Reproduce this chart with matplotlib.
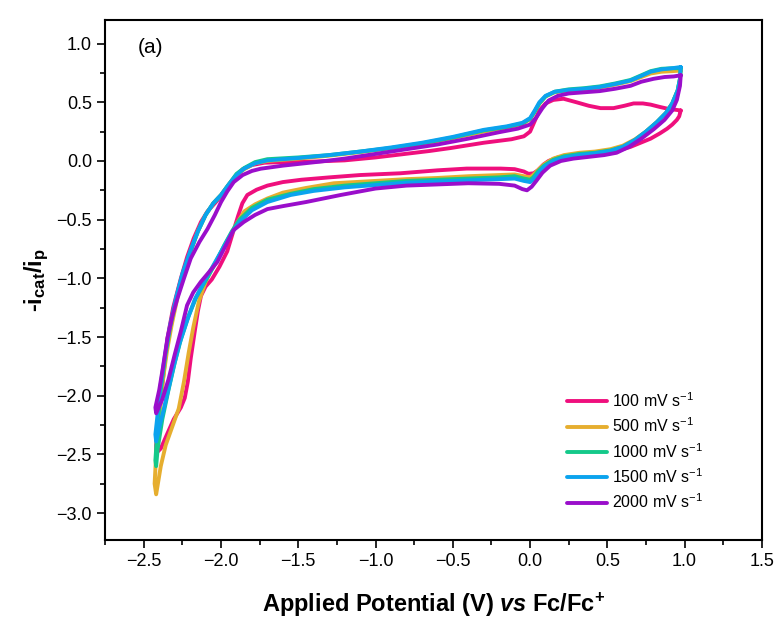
"""
CV loops, normalised current vs potential, five scan rates
"""

import matplotlib.pyplot as plt
from matplotlib.ticker import MultipleLocator

plt.rcParams['font.family'] = 'Liberation Sans'
plt.rcParams['mathtext.fontset'] = 'custom'
plt.rcParams['mathtext.rm'] = 'Liberation Sans'
plt.rcParams['mathtext.it'] = 'Liberation Sans:italic'
plt.rcParams['mathtext.bf'] = 'Liberation Sans:bold'
plt.rcParams['mathtext.bfit'] = 'Liberation Sans:italic:bold'

labels = ['100 mV s$^{-1}$', '500 mV s$^{-1}$', '1000 mV s$^{-1}$',
          '1500 mV s$^{-1}$', '2000 mV s$^{-1}$']
colors = ['#EF0F7D', '#E6AE2F', '#14C98A', '#0BA3EE', '#9A0ECB']

# each loop: from the positive vertex along the lower branch to the
# negative vertex, then back along the upper branch
pink_x = [0.975, 0.965, 0.95, 0.92, 0.887, 0.84, 0.78, 0.715, 0.65, 0.60, 0.54, 0.456, 0.36, 0.28,
          0.18, 0.12, 0.087, 0.05, 0.023, -0.01, -0.04, -0.10, -0.19, -0.41, -0.6, -0.84, -1.1,
          -1.30, -1.48, -1.60, -1.70, -1.77, -1.83, -1.862, -1.89, -1.93, -1.96, -2.01, -2.06,
          -2.10, -2.13, -2.15, -2.17, -2.196, -2.215, -2.235, -2.26, -2.306, -2.35, -2.39, -2.42,
          -2.42, -2.41, -2.395, -2.375, -2.347, -2.31, -2.26, -2.22, -2.177, -2.13, -2.088, -2.04,
          -2.0, -1.96, -1.91, -1.86, -1.80, -1.72, -1.6, -1.4, -1.2, -1.0, -0.84, -0.65, -0.514,
          -0.3, -0.12, -0.04, 0.0, 0.03, 0.06, 0.10, 0.15, 0.216, 0.30, 0.38, 0.456, 0.54, 0.61,
          0.67, 0.73, 0.78, 0.84, 0.89, 0.975]
pink_y = [0.43, 0.38, 0.35, 0.31, 0.275, 0.235, 0.19, 0.155, 0.12, 0.10, 0.075, 0.06, 0.055, 0.05,
          0.03, 0.0, -0.03, -0.08, -0.105, -0.11, -0.09, -0.07, -0.065, -0.065, -0.08, -0.105, -0.12,
          -0.14, -0.16, -0.18, -0.21, -0.245, -0.29, -0.36, -0.47, -0.64, -0.77, -0.90, -1.01,
          -1.07, -1.15, -1.28, -1.45, -1.68, -1.88, -2.02, -2.10, -2.2, -2.33, -2.45, -2.49,
          -2.42, -2.3, -2.1, -1.85, -1.51, -1.25, -1.0, -0.82, -0.66, -0.52, -0.43, -0.36,
          -0.30, -0.24, -0.14, -0.07, -0.035, -0.015, -0.01, -0.005, 0.005, 0.03, 0.055, 0.085, 0.11,
          0.155, 0.185, 0.21, 0.25, 0.34, 0.43, 0.49, 0.52, 0.53, 0.50, 0.47, 0.45, 0.45, 0.47,
          0.49, 0.49, 0.48, 0.46, 0.445, 0.43]

orange_x = [0.975, 0.97, 0.955, 0.92, 0.88, 0.82, 0.75, 0.68, 0.60, 0.52, 0.42, 0.32, 0.22, 0.15,
            0.09, 0.05, 0.02, 0.0, -0.04, -0.10, -0.2, -0.4, -0.6, -0.8, -1.0, -1.27, -1.45, -1.6,
            -1.70, -1.78, -1.85, -1.905, -1.95, -2.0, -2.06, -2.10, -2.144, -2.18, -2.209, -2.24,
            -2.274, -2.32, -2.358, -2.39, -2.42,
            -2.43, -2.42, -2.40, -2.38, -2.35, -2.32, -2.28, -2.24, -2.20, -2.15, -2.10, -2.05, -2.0,
            -1.95, -1.90, -1.85, -1.78, -1.70, -1.5, -1.3, -1.1, -0.9, -0.7, -0.5, -0.3, -0.15, -0.05,
            0.0, 0.03, 0.06, 0.10, 0.16, 0.25, 0.35, 0.45, 0.55, 0.65, 0.72, 0.78, 0.85, 0.92, 0.975]
orange_y = [0.77, 0.70, 0.60, 0.49, 0.41, 0.33, 0.25, 0.185, 0.13, 0.10, 0.08, 0.07, 0.05, 0.02,
            -0.03, -0.08, -0.12, -0.14, -0.13, -0.115, -0.12, -0.13, -0.145, -0.155, -0.17, -0.19,
            -0.23, -0.27, -0.32, -0.37, -0.43, -0.55, -0.66, -0.78, -0.92, -1.03, -1.2, -1.42, -1.63,
            -1.88, -2.11, -2.28, -2.42, -2.6, -2.84,
            -2.75, -2.5, -2.2, -1.9, -1.62, -1.40, -1.15, -0.95, -0.78, -0.60, -0.46, -0.36, -0.29,
            -0.20, -0.12, -0.07, -0.02, 0.0, 0.02, 0.045, 0.075, 0.11, 0.145, 0.195, 0.25, 0.285, 0.315,
            0.355, 0.42, 0.49, 0.55, 0.585, 0.60, 0.61, 0.625, 0.65, 0.68, 0.715, 0.745, 0.76, 0.765, 0.77]

green_x = [0.975, 0.97, 0.955, 0.92, 0.88, 0.82, 0.75, 0.68, 0.60, 0.52, 0.42, 0.32, 0.22, 0.15,
           0.09, 0.05, 0.02, 0.0, -0.04, -0.10, -0.2, -0.4, -0.6, -0.8, -1.0, -1.2, -1.4, -1.55,
           -1.7, -1.8, -1.88, -1.93, -1.98, -2.04, -2.10, -2.16, -2.21, -2.26, -2.30, -2.34, -2.38,
           -2.41, -2.42,
           -2.425, -2.41, -2.39, -2.36, -2.33, -2.29, -2.25, -2.20, -2.15, -2.10, -2.05, -2.0, -1.95,
           -1.90, -1.85, -1.78, -1.70, -1.5, -1.3, -1.1, -0.9, -0.7, -0.5, -0.3, -0.15, -0.05, 0.0,
           0.03, 0.06, 0.10, 0.16, 0.25, 0.35, 0.45, 0.55, 0.65, 0.72, 0.78, 0.85, 0.92, 0.975]
green_y = [0.79, 0.70, 0.60, 0.49, 0.41, 0.33, 0.25, 0.18, 0.12, 0.09, 0.07, 0.06, 0.04, 0.01,
           -0.04, -0.09, -0.14, -0.16, -0.15, -0.13, -0.14, -0.15, -0.16, -0.17, -0.19, -0.21, -0.24,
           -0.28, -0.33, -0.40, -0.50, -0.60, -0.72, -0.88, -1.02, -1.16, -1.32, -1.52, -1.72, -1.95,
           -2.2, -2.45, -2.60,
           -2.55, -2.25, -1.95, -1.65, -1.42, -1.17, -0.97, -0.78, -0.60, -0.46, -0.36, -0.29, -0.20,
           -0.11, -0.06, -0.01, 0.015, 0.03, 0.05, 0.08, 0.11, 0.15, 0.20, 0.26, 0.29, 0.32, 0.36,
           0.42, 0.49, 0.55, 0.59, 0.61, 0.62, 0.635, 0.66, 0.69, 0.73, 0.765, 0.785, 0.79, 0.79]

blue_x = [0.975, 0.97, 0.955, 0.92, 0.88, 0.82, 0.75, 0.68, 0.60, 0.52, 0.42, 0.32, 0.22, 0.15,
          0.09, 0.05, 0.02, 0.0, -0.04, -0.10, -0.2, -0.4, -0.6, -0.8, -1.0, -1.2, -1.4, -1.55,
          -1.7, -1.8, -1.88, -1.93, -1.99, -2.05, -2.11, -2.17, -2.22, -2.27, -2.31, -2.35, -2.39,
          -2.42,
          -2.425, -2.41, -2.39, -2.36, -2.33, -2.29, -2.25, -2.20, -2.15, -2.10, -2.05, -2.0, -1.95,
          -1.90, -1.85, -1.78, -1.70, -1.5, -1.3, -1.1, -0.9, -0.7, -0.5, -0.3, -0.15, -0.05, 0.0,
          0.03, 0.06, 0.10, 0.16, 0.25, 0.35, 0.45, 0.55, 0.65, 0.72, 0.78, 0.85, 0.92, 0.975]
blue_y = [0.80, 0.70, 0.60, 0.49, 0.41, 0.33, 0.25, 0.18, 0.12, 0.085, 0.065, 0.05, 0.03, 0.0,
          -0.05, -0.11, -0.16, -0.18, -0.17, -0.15, -0.155, -0.165, -0.175, -0.185, -0.205, -0.225,
          -0.255, -0.29, -0.35, -0.42, -0.52, -0.61, -0.75, -0.89, -1.03, -1.18, -1.36, -1.56, -1.77,
          -2.0, -2.22, -2.39,
          -2.33, -2.15, -1.9, -1.63, -1.40, -1.16, -0.96, -0.77, -0.60, -0.46, -0.36, -0.29, -0.20,
          -0.12, -0.065, -0.02, 0.005, 0.025, 0.05, 0.08, 0.115, 0.155, 0.205, 0.265, 0.295, 0.325,
          0.365, 0.43, 0.50, 0.555, 0.59, 0.605, 0.615, 0.63, 0.655, 0.685, 0.725, 0.76, 0.78, 0.79, 0.80]

purple_x = [0.975, 0.97, 0.95, 0.92, 0.87, 0.80, 0.72, 0.64, 0.56, 0.48, 0.38, 0.28, 0.20, 0.13,
            0.08, 0.04, 0.01, -0.02, -0.05, -0.10, -0.2, -0.4, -0.6, -0.8, -1.0, -1.226, -1.45, -1.60,
            -1.70, -1.78, -1.853, -1.92, -1.97, -2.024, -2.08, -2.131, -2.18, -2.22, -2.26, -2.30,
            -2.34, -2.38, -2.42,
            -2.425, -2.40, -2.375, -2.347, -2.315, -2.282, -2.24, -2.196, -2.14, -2.088, -2.04, -2.0,
            -1.96, -1.918, -1.86, -1.80, -1.743, -1.6, -1.355, -1.2, -1.0, -0.8, -0.6, -0.4, -0.2,
            -0.08, 0.0, 0.04, 0.08, 0.12, 0.18, 0.25, 0.35, 0.45, 0.55, 0.65, 0.72, 0.80, 0.87, 0.93, 0.975]
purple_y = [0.73, 0.64, 0.52, 0.43, 0.35, 0.27, 0.19, 0.12, 0.07, 0.05, 0.035, 0.02, 0.0, -0.04,
            -0.10, -0.17, -0.22, -0.25, -0.24, -0.21, -0.195, -0.19, -0.20, -0.21, -0.235, -0.29,
            -0.35, -0.385, -0.41, -0.46, -0.52, -0.59, -0.72, -0.86, -0.95, -1.03, -1.12, -1.23,
            -1.45, -1.65, -1.86, -2.03, -2.15,
            -2.1, -1.95, -1.75, -1.51, -1.32, -1.17, -1.0, -0.83, -0.69, -0.58, -0.46, -0.35,
            -0.26, -0.18, -0.12, -0.085, -0.066, -0.04, -0.005, 0.02, 0.06, 0.10, 0.14, 0.19, 0.245,
            0.275, 0.31, 0.37, 0.45, 0.515, 0.555, 0.575, 0.585, 0.595, 0.615, 0.64, 0.675, 0.70, 0.715,
            0.72, 0.73]

xs = [pink_x, orange_x, green_x, blue_x, purple_x]
ys = [pink_y, orange_y, green_y, blue_y, purple_y]

fig = plt.figure(figsize=(7.79, 6.28), dpi=100)
ax = fig.add_axes([0.135, 0.14, 0.843, 0.828])

for x, y, c, lab in zip(xs, ys, colors, labels):
    ax.plot(x, y, color=c, lw=2.8, label=lab, solid_joinstyle='round', solid_capstyle='round')

ax.set_xlim(-2.75, 1.5)
ax.set_ylim(-3.23, 1.2)
ax.xaxis.set_major_locator(MultipleLocator(0.5))
ax.xaxis.set_minor_locator(MultipleLocator(0.25))
ax.yaxis.set_major_locator(MultipleLocator(0.5))
ax.yaxis.set_minor_locator(MultipleLocator(0.25))
ax.xaxis.set_major_formatter('{x:.1f}')
ax.yaxis.set_major_formatter('{x:.1f}')
ax.tick_params(which='both', direction='out', top=False, right=False, width=1.2, labelsize=13)
ax.tick_params(which='major', length=6)
ax.tick_params(which='minor', length=3.5)
for s in ax.spines.values():
    s.set_linewidth(1.5)

ax.set_xlabel(r'Applied Potential (V) $\mathbfit{vs}$ Fc/Fc$^{\mathbf{+}}$',
              fontsize=17, fontweight='bold', labelpad=15)
ax.set_ylabel(r'-$\mathbf{i_{cat}/i_p}$', fontsize=17, fontweight='bold', labelpad=4)

ax.text(0.05, 0.948, '(a)', transform=ax.transAxes, fontsize=15, ha='left', va='center')

ax.legend(loc='lower left', bbox_to_anchor=(0.703, 0.055), frameon=False, fontsize=11.5,
          handlelength=2.5, handletextpad=0.3, labelspacing=0.42, borderpad=0, borderaxespad=0)

fig.savefig('out.png', dpi=100)
